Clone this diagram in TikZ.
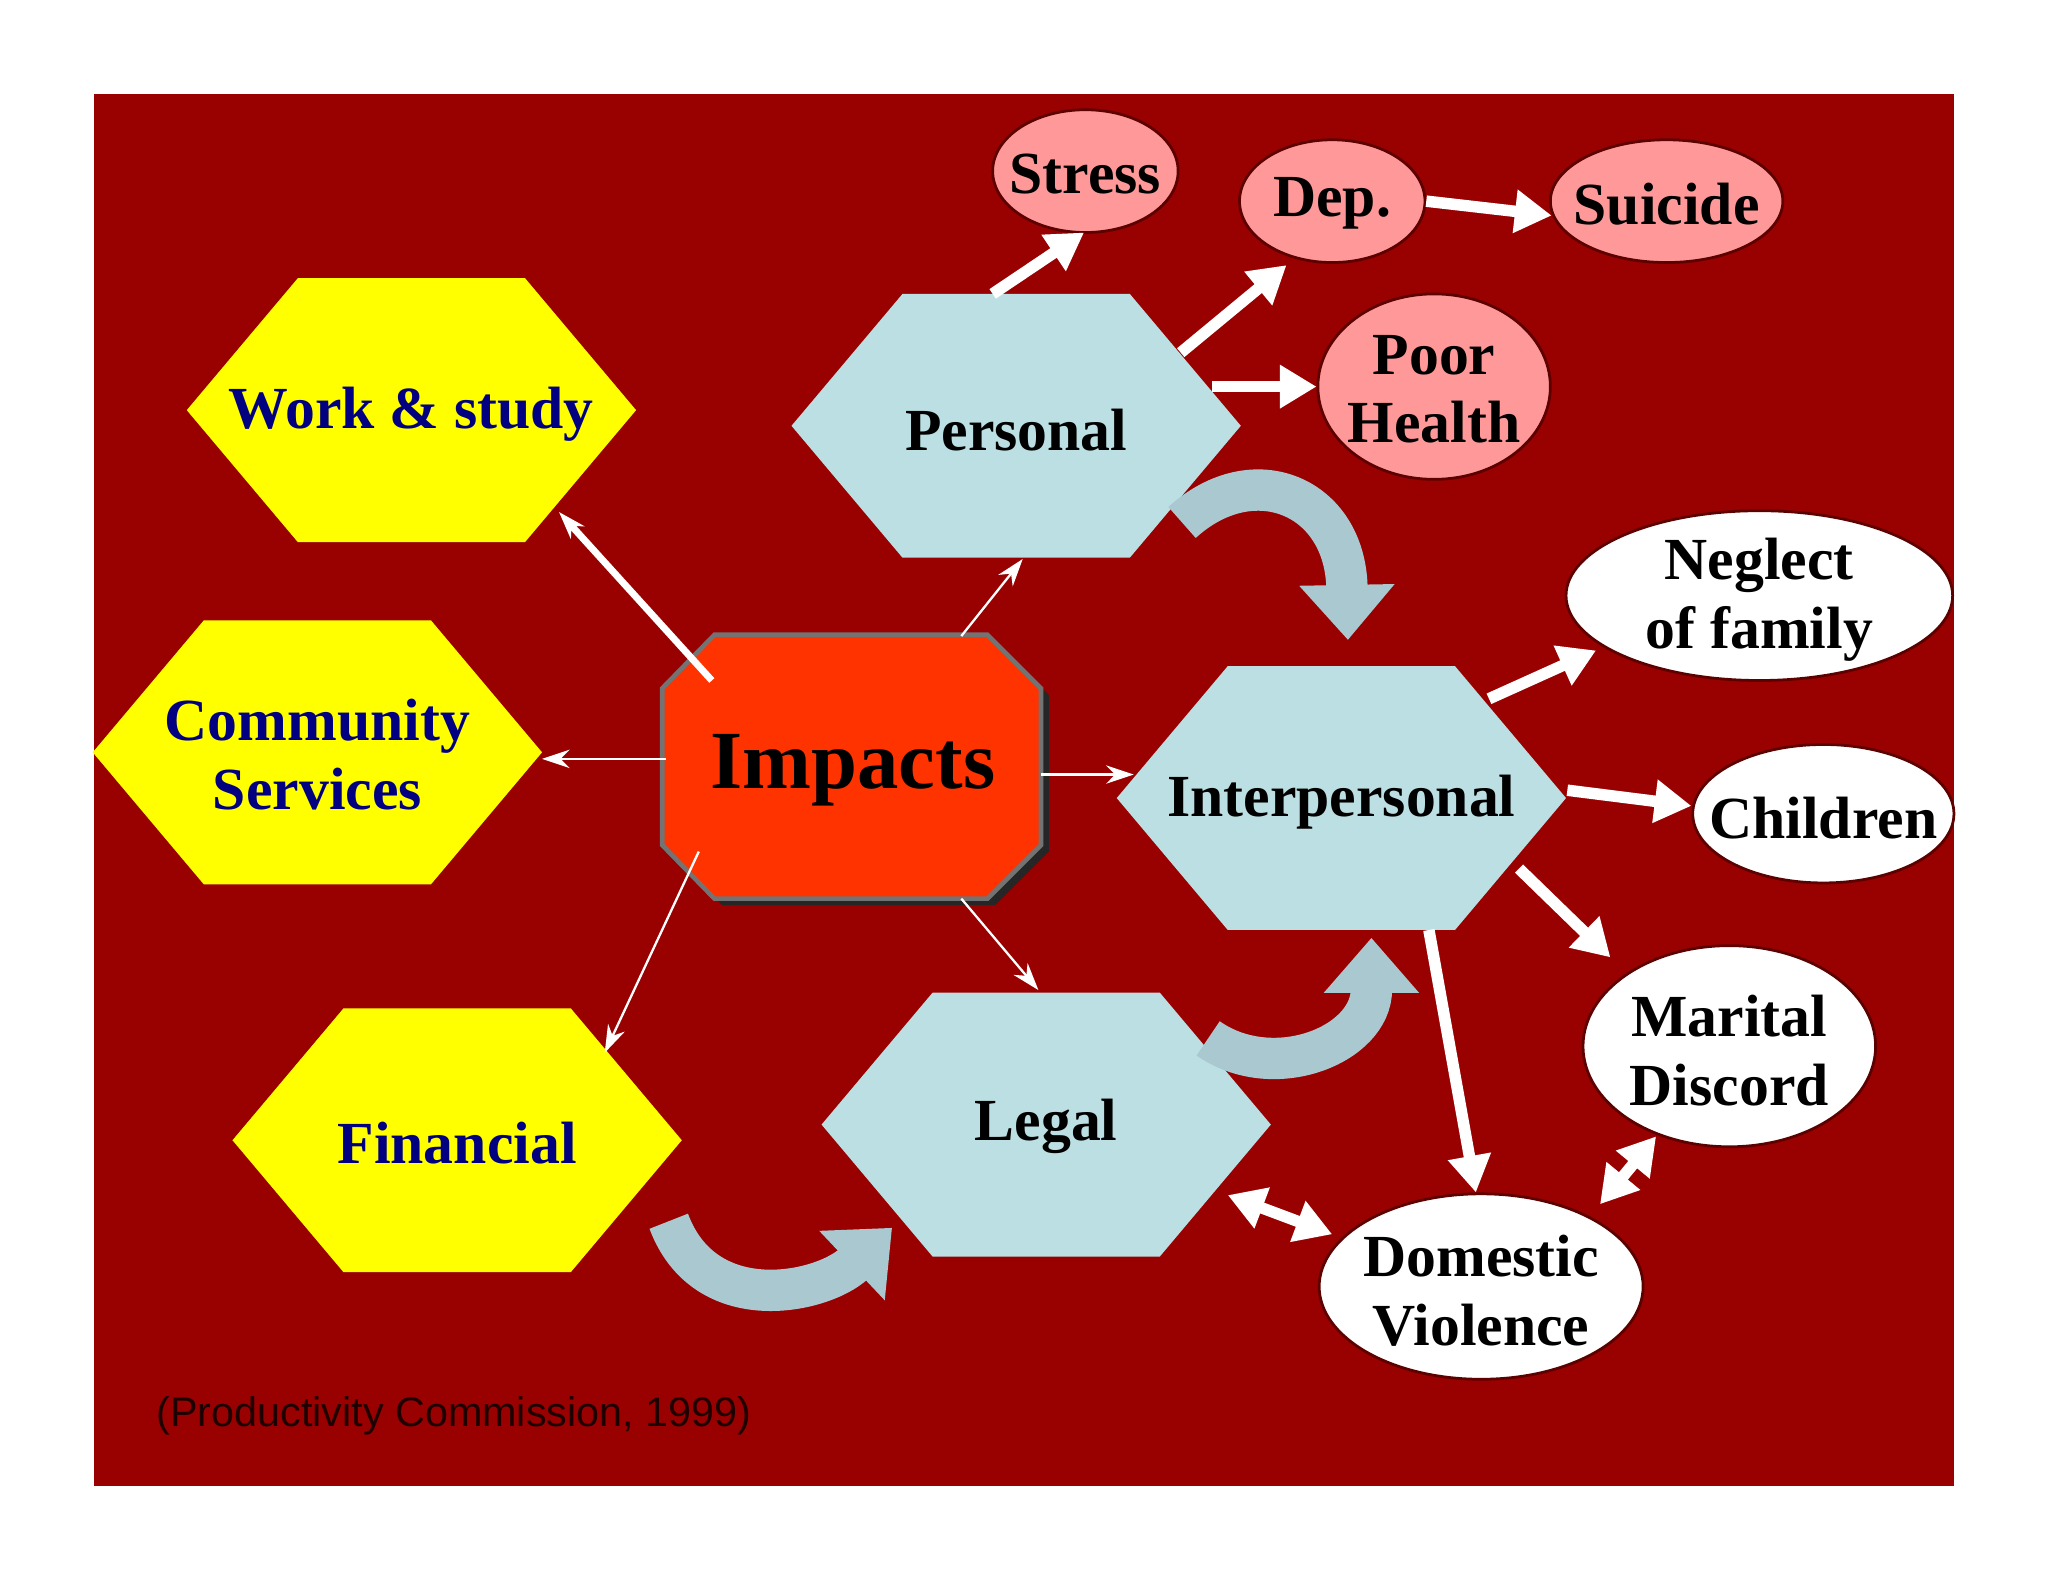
\documentclass[tikz,border=0pt]{standalone}
\usepackage{fontspec}
\setmainfont{Liberation Serif}
\setsansfont{Liberation Sans}
\usetikzlibrary{shapes.geometric,arrows.meta}
\definecolor{bgred}{HTML}{990000}
\definecolor{hexblue}{HTML}{BBDFE2}
\definecolor{hexyel}{HTML}{FFFF00}
\definecolor{pinkel}{HTML}{FF9999}
\definecolor{impred}{HTML}{FF3300}
\definecolor{navy}{HTML}{000080}
\definecolor{curv}{HTML}{A9C8CF}
\tikzset{
  lbl/.style={font=\bfseries\fontsize{13pt}{15pt}\selectfont, align=center},
  ylbl/.style={lbl, text=navy},
  pinkell/.style={draw=bgred!60!black, line width=0.6pt, fill=pinkel},
  whiteell/.style={draw=bgred!60!black, line width=0.6pt, fill=white},
  thin arr/.style={draw=white, line width=0.5pt, -{Stealth[length=6pt,width=4pt]}},
  thick arr/.style={draw=white, line width=2.5pt, -{Triangle[length=8pt,width=9pt]}},
  both arr/.style={draw=white, line width=2.5pt, {Triangle[length=8pt,width=9pt]}-{Triangle[length=8pt,width=9pt]}},
  curved arr/.style={draw=curv, line width=9pt, -{Triangle[length=12pt,width=20pt]}},
}
\newcommand{\myhex}[3]{% cx cy fill
  \fill[#3] (#1-172,#2) -- (#1-87,#2-101) -- (#1+87,#2-101) -- (#1+172,#2) -- (#1+87,#2+101) -- (#1-87,#2+101) -- cycle;}
\begin{document}
\begin{tikzpicture}[x=0.01cm,y=-0.01cm]
\fill[white] (0,0) rectangle (1568,1211);
\useasboundingbox (0,0) rectangle (1568,1211);
\fill[bgred] (72,72) rectangle (1496,1138);
% hexagons
\myhex{315}{314}{hexyel}
\myhex{243}{576}{hexyel}
\myhex{350}{873}{hexyel}
\myhex{778}{326}{hexblue}
\myhex{1027}{611}{hexblue}
\myhex{801}{861}{hexblue}
\node[ylbl] (work) at (315,317) {Work \& study};
\node[ylbl] (comm) at (243,578) {Community\\Services};
\node[ylbl] (fin) at (350,875) {Financial};
\node[lbl] (pers) at (778,329) {Personal};
\node[lbl] (inter) at (1027,614) {Interpersonal};
\node[lbl] (legal) at (801,862) {Legal};
% octagon
\fill[black!85] (553,491) -- (762,491) -- (803,532) -- (803,652) -- (762,693) -- (553,693) -- (513,652) -- (513,532) -- cycle;
\fill[impred, draw=black!55, line width=1pt] (547,486) -- (756,486) -- (797,527) -- (797,647) -- (756,688) -- (547,688) -- (507,647) -- (507,527) -- cycle;
\node[font=\bfseries\fontsize{18pt}{21pt}\selectfont] (imp) at (653,590) {Impacts};
% ellipses
\path[pinkell] (831,131) ellipse [x radius=71, y radius=47];
\path[pinkell] (1020,154) ellipse [x radius=71, y radius=47];
\path[pinkell] (1276,154) ellipse [x radius=89, y radius=47];
\path[pinkell] (1098,296) ellipse [x radius=89, y radius=71];
\path[whiteell] (1347,456) ellipse [x radius=148, y radius=65];
\path[whiteell] (1396,623) ellipse [x radius=100, y radius=53];
\path[whiteell] (1324,801) ellipse [x radius=112, y radius=77];
\path[whiteell] (1134,985) ellipse [x radius=124, y radius=71];
\node[lbl] (stress) at (831,133) {Stress};
\node[lbl] (dep) at (1020,156) {Dep.};
\node[lbl] (sui) at (1276,156) {Suicide};
\node[lbl] (poor) at (1098,298) {Poor\\Health};
\node[lbl] (neg) at (1347,459) {Neglect\\of family};
\node[lbl] (child) at (1396,626) {Children};
\node[lbl] (mar) at (1324,804) {Marital\\Discord};
\node[lbl] (dom) at (1134,988) {Domestic\\Violence};
% thin arrows
\coordinate (i1) at (545,521); \coordinate (w1) at (428,392);
\coordinate (i2) at (510,581); \coordinate (c1) at (415,581);
\coordinate (i3) at (535,652); \coordinate (f1) at (463,806);
\coordinate (i4) at (736,487); \coordinate (p1) at (783,428);
\coordinate (i5) at (797,593); \coordinate (n1) at (868,593);
\coordinate (i6) at (736,688); \coordinate (l1) at (795,758);
\draw[thin arr, line width=1.5pt] (i1) -- (w1);
\draw[thin arr] (i2) -- (c1);
\draw[thin arr] (i3) -- (f1);
\draw[thin arr] (i4) -- (p1);
\draw[thin arr] (i5) -- (n1);
\draw[thin arr] (i6) -- (l1);
% thick arrows
\coordinate (pa) at (760,225); \coordinate (pb) at (904,270); \coordinate (pc) at (928,296);
\coordinate (st) at (830,178); \coordinate (de) at (985,203); \coordinate (ph) at (1008,296);
\coordinate (dp) at (1092,154); \coordinate (su) at (1188,165);
\draw[thick arr] (pa) -- (st);
\draw[thick arr] (pb) -- (de);
\draw[thick arr] (pc) -- (ph);
\draw[thick arr] (dp) -- (su);
\coordinate (na) at (1140,535); \coordinate (nb) at (1200,605); \coordinate (nc) at (1163,665); \coordinate (nd) at (1094,712);
\coordinate (ne) at (1222,498); \coordinate (ch) at (1295,617); \coordinate (ma) at (1233,733); \coordinate (dv) at (1130,913);
\draw[thick arr] (na) -- (ne);
\draw[thick arr] (nb) -- (ch);
\draw[thick arr] (nc) -- (ma);
\draw[thick arr] (nd) -- (dv);
\coordinate (la) at (940,915); \coordinate (lb) at (1020,945);
\coordinate (ma1) at (1225,922); \coordinate (ma2) at (1268,870);
\draw[both arr] (la) -- (lb);
\draw[both arr] (ma1) -- (ma2);
% curved block arrows
\coordinate (ca) at (905,400); \coordinate (cae) at (1032,490);
\draw[curved arr] (ca) .. controls (960,350) and (1030,380) .. (cae);
\coordinate (cb) at (925,795); \coordinate (cbe) at (1050,718);
\draw[curved arr] (cb) .. controls (975,830) and (1050,800) .. (cbe);
\coordinate (cc) at (512,935); \coordinate (cce) at (683,940);
\draw[curved arr] (cc) .. controls (540,1010) and (630,990) .. (cce);
% citation
\node[font=\sffamily\fontsize{9pt}{11pt}\selectfont, text=black!80!bgred, anchor=west, inner sep=0pt] (cit) at (119,1084) {(Productivity Commission, 1999)};
\end{tikzpicture}
\end{document}
